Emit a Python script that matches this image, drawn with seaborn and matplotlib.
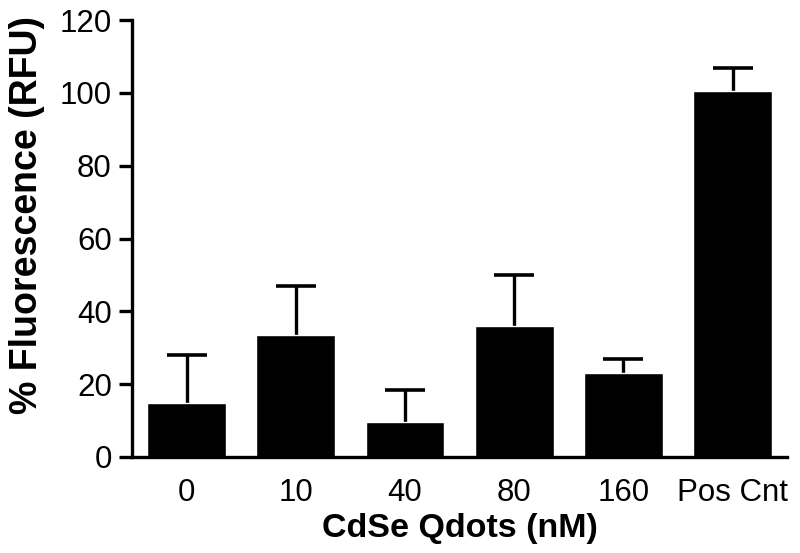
import matplotlib
matplotlib.use("Agg")
import matplotlib.pyplot as plt
import seaborn as sns
import numpy as np
import pandas as pd

# data
categories = ["0", "10", "40", "80", "160", "Pos Cnt"]
means = [14.7, 33.5, 9.7, 36.1, 23.0, 100.4]
err_upper = [13.3, 13.5, 8.7, 13.9, 3.9, 6.5]

sns.set_style("ticks", {"axes.edgecolor": "black", "text.color": "black",
                        "xtick.color": "black", "ytick.color": "black",
                        "axes.labelcolor": "black"})
plt.rcParams['font.family'] = ['Liberation Sans', 'DejaVu Sans']

df = pd.DataFrame({"conc": categories, "fluor": means})

fig = plt.figure(figsize=(8, 5.53), dpi=100)
ax = fig.add_axes([0.165, 0.1736, 0.819, 0.7902])

# upper-only error bars, drawn under the bars
x = np.arange(len(categories))
_, caps, _ = ax.errorbar(x, means, yerr=[np.zeros(len(means)), err_upper], fmt="none",
                         ecolor="black", elinewidth=2.4, capsize=14.5, capthick=2.6, zorder=1)
# hide the zero-length lower caps
for cap in caps:
    if np.allclose(cap.get_ydata(), means):
        cap.set_visible(False)

sns.barplot(data=df, x="conc", y="fluor", order=categories, color="black",
            width=0.72, saturation=1, errorbar=None, ax=ax, zorder=2)

ax.set_xlim(-0.5, len(categories) - 0.5)
ax.set_ylim(0, 120)
ax.set_yticks(range(0, 121, 20))

sns.despine(ax=ax)
for side in ["left", "bottom"]:
    ax.spines[side].set_linewidth(2.4)
ax.tick_params(axis="y", length=9.5, width=2.4, labelsize=22.5, pad=5)
ax.tick_params(axis="x", length=0, labelsize=22.5, pad=15)

ax.set_xlabel("CdSe Qdots (nM)", fontsize=24.5, fontweight="bold", labelpad=4)
ax.set_ylabel("% Fluorescence (RFU)", fontsize=27, fontweight="bold")
ax.yaxis.set_label_coords(-0.133, 0.554)

fig.savefig("out.png", dpi=100)
